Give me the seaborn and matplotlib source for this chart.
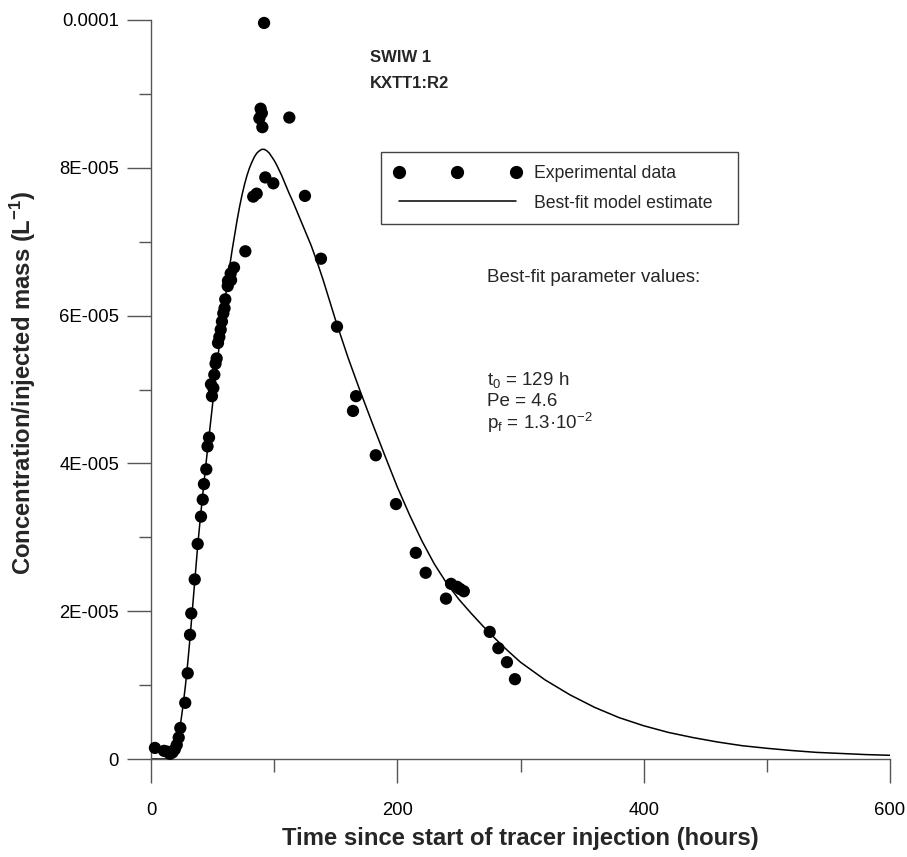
import numpy as np
import pandas as pd
import matplotlib
matplotlib.use("Agg")
import matplotlib.pyplot as plt
from matplotlib.lines import Line2D
import seaborn as sns

# ---------------- data (concentration in units of 1e-5 L^-1) ----------------
SCALE = 1e-5
t_exp = [3.2, 10.6, 13.0, 15.4, 17.5, 19.3, 20.9, 22.5, 23.8, 27.8, 29.8, 31.7,
         32.7, 35.5, 37.9, 40.6, 42.0, 43.0, 44.9, 45.9, 47.1, 48.7, 49.5, 50.6,
         51.4, 52.4, 53.3, 54.4, 55.5, 56.6, 57.6, 58.7, 59.7, 60.3, 62.3, 62.5,
         65.0, 64.7, 67.4, 76.6, 83.0, 85.8, 88.0, 89.0, 90.0, 90.4, 91.8, 92.8,
         99.3, 112.3, 125.0, 138.0, 151.0, 164.0, 166.5, 182.5, 198.9, 215.0,
         223.0, 239.5, 243.6, 248.5, 251.0, 254.0, 275.0, 282.0, 289.0, 295.5]
c_exp = [0.15, 0.11, 0.10, 0.07, 0.09, 0.13, 0.19, 0.29, 0.42, 0.76, 1.16, 1.68,
         1.97, 2.43, 2.91, 3.28, 3.51, 3.72, 3.92, 4.23, 4.35, 5.07, 4.91, 5.02,
         5.20, 5.35, 5.42, 5.63, 5.71, 5.81, 5.92, 6.03, 6.10, 6.22, 6.40, 6.47,
         6.48, 6.57, 6.65, 6.87, 7.61, 7.65, 8.67, 8.80, 8.74, 8.55, 9.96, 7.87,
         7.79, 8.68, 7.62, 6.77, 5.85, 4.71, 4.91, 4.11, 3.45, 2.79,
         2.52, 2.17, 2.37, 2.33, 2.30, 2.27, 1.72, 1.50, 1.31, 1.08]

t_model = [0, 14, 16, 18, 20, 22, 24, 26, 28, 30, 32, 34, 36, 38, 40, 42, 44, 46,
           48, 50, 52, 54, 56, 58, 60, 62, 64, 66, 68, 70, 72, 74, 76, 78, 80,
           82, 84, 86, 88, 90, 92, 94, 96, 98, 100, 102, 104, 106, 108, 110, 112,
           115, 118, 120, 125, 130, 135, 140, 145, 150, 160, 170, 180, 190, 200,
           210, 220, 230, 240, 250, 260, 270, 280, 290, 300, 320, 340, 360, 380,
           400, 420, 440, 460, 480, 500, 520, 540, 560, 580, 600]
c_model = [0.0, 0.0, 0.03, 0.08, 0.17, 0.30, 0.48, 0.72, 1.00, 1.33, 1.70, 2.10,
           2.50, 2.90, 3.25, 3.58, 3.90, 4.20, 4.50, 4.80, 5.10, 5.40, 5.67, 5.95,
           6.20, 6.45, 6.68, 6.90, 7.10, 7.30, 7.48, 7.64, 7.78, 7.90, 8.00, 8.08,
           8.15, 8.20, 8.23, 8.25, 8.25, 8.23, 8.20, 8.15, 8.10, 8.04, 7.97, 7.90,
           7.82, 7.74, 7.66, 7.55, 7.43, 7.35, 7.15, 6.95, 6.72, 6.47, 6.20, 5.93,
           5.43, 4.97, 4.53, 4.10, 3.68, 3.30, 2.95, 2.64, 2.38, 2.16, 1.97, 1.79,
           1.62, 1.46, 1.31, 1.07, 0.87, 0.70, 0.56, 0.45, 0.36, 0.29, 0.23, 0.18,
           0.145, 0.115, 0.09, 0.075, 0.06, 0.05]

x_major = [0, 200, 400, 600]
x_minor = [100, 300, 500]
y_major = [0, 2e-5, 4e-5, 6e-5, 8e-5, 1e-4]
y_major_labels = ["0", "2E-005", "4E-005", "6E-005", "8E-005", "0.0001"]
y_minor = [1e-5, 3e-5, 5e-5, 7e-5, 9e-5]

legend_labels = ["Experimental data", "Best-fit model estimate"]
title_lines = ["SWIW 1", "KXTT1:R2"]
param_header = "Best-fit parameter values:"
param_lines = [r"t$_\mathregular{0}$ = 129 h", "Pe = 4.6",
               r"p$_\mathregular{f}$ = 1.3·10$^\mathregular{−2}$"]

df_exp = pd.DataFrame({"t": t_exp, "c": np.array(c_exp) * SCALE})
df_mod = pd.DataFrame({"t": t_model, "c": np.array(c_model) * SCALE})

# ---------------- styling ----------------
sns.set_theme(style="ticks")
plt.rcParams["font.family"] = ["Liberation Sans", "DejaVu Sans"]
plt.rcParams["mathtext.default"] = "regular"
AX_COL = "#555555"

fig = plt.figure(figsize=(9.07, 8.57), dpi=100)
ax = fig.add_axes([151 / 907, 1 - 759 / 857, 739 / 907, 739 / 857])

sns.lineplot(data=df_mod, x="t", y="c", ax=ax, color="black", linewidth=1.1,
             sort=False, estimator=None, legend=False)
sns.scatterplot(data=df_exp, x="t", y="c", ax=ax, color="black", s=78,
                edgecolor="none", linewidth=0, legend=False, clip_on=False, zorder=3)

ax.set_xlim(0, 600)
ax.set_ylim(0, 1e-4)
for side in ("top", "right"):
    ax.spines[side].set_visible(False)
for side in ("left", "bottom"):
    ax.spines[side].set_color(AX_COL)
    ax.spines[side].set_linewidth(1.0)

ax.set_xticks(x_major)
ax.set_xticks(x_minor, minor=True)
ax.set_xticklabels([str(v) for v in x_major])
ax.set_yticks(y_major)
ax.set_yticklabels(y_major_labels)
ax.set_yticks(y_minor, minor=True)

ax.tick_params(axis="both", which="both", direction="out", color=AX_COL,
               width=1.0, labelsize=13.3, labelcolor="black")
ax.tick_params(axis="y", which="major", length=17, pad=6.0)
ax.tick_params(axis="y", which="minor", length=8.6)
ax.tick_params(axis="x", which="major", length=17, pad=14)
ax.tick_params(axis="x", which="minor", length=9.4)

label_font = dict(family=["Liberation Sans", "DejaVu Sans"],
                  weight="bold", size=17.2)
ax.set_xlabel("Time since start of tracer injection (hours)", va="center", **label_font)
ax.set_ylabel(r"Concentration/injected mass (L$^{\mathregular{−1}}$)",
              va="center", **label_font)
ax.xaxis.set_label_coords(0.5, -0.107)
ax.yaxis.set_label_coords(-0.173, 0.509)

# annotations
ax.text(0.2963, 0.9486, title_lines[0], transform=ax.transAxes, fontsize=12,
        fontweight="bold", va="center", ha="left")
ax.text(0.2963, 0.9134, title_lines[1], transform=ax.transAxes, fontsize=12,
        fontweight="bold", va="center", ha="left")
ax.text(0.4547, 0.651, param_header, transform=ax.transAxes, fontsize=13.5,
        va="center", ha="left")
for yy, txt in zip([0.5129, 0.4844, 0.4547], param_lines):
    ax.text(0.4547, yy, txt, transform=ax.transAxes, fontsize=13.5,
            va="center", ha="left")

# legend
handles = [Line2D([], [], color="black", marker="o", linestyle="none", markersize=8.5),
           Line2D([], [], color="black", linewidth=1.1)]
leg = ax.legend(handles, legend_labels, loc="upper left",
                bbox_to_anchor=(381 / 907, 1 - 225 / 857, 357 / 907, 73 / 857),
                bbox_transform=fig.transFigure, mode="expand",
                numpoints=3, fontsize=12.7, handlelength=7.23, handletextpad=0.73,
                borderpad=0.72, labelspacing=0.73, borderaxespad=0,
                fancybox=False, framealpha=1, edgecolor="#444444")
leg.get_frame().set_linewidth(1.0)

fig.savefig("out.png", dpi=100)
